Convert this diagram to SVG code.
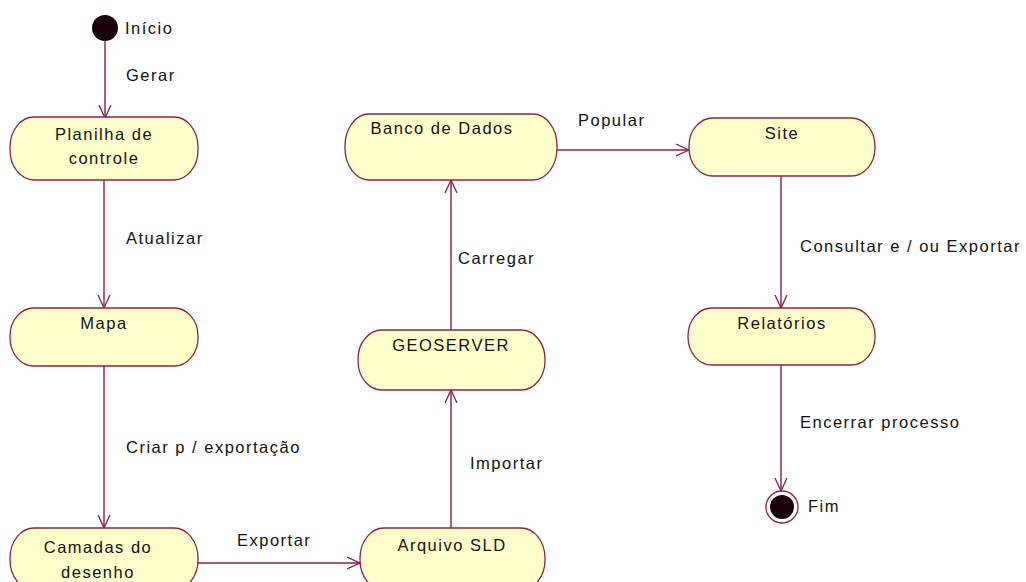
<svg xmlns="http://www.w3.org/2000/svg" width="1026" height="582" viewBox="0 0 1026 582">
<style>
.node{fill:#ffffcc;stroke:#8a2448;stroke-width:1.3}
.t{font-family:"Liberation Sans",Arial,sans-serif;font-size:16.5px;fill:#111;letter-spacing:1.5px}
.c{text-anchor:middle}
.e{stroke:#8a1c4c;stroke-width:1.4;fill:none;marker-end:url(#arr)}
</style>
<defs>
<marker id="arr" markerUnits="userSpaceOnUse" markerWidth="16" markerHeight="16" refX="13" refY="6" orient="auto" viewBox="0 0 16 12">
<path d="M0,0 L13,6 L0,12" fill="none" stroke="#8a1c4c" stroke-width="1.3"/>
</marker>
</defs>
<rect width="1026" height="582" fill="#ffffff"/>
<g id="connectors">
<line class="e" x1="105" y1="41" x2="105" y2="118"/>
<line class="e" x1="104" y1="180" x2="104" y2="308"/>
<line class="e" x1="104" y1="366" x2="104" y2="528"/>
<line class="e" x1="198" y1="563" x2="360" y2="563"/>
<line class="e" x1="451" y1="528" x2="451" y2="390"/>
<line class="e" x1="451" y1="330" x2="451" y2="180"/>
<line class="e" x1="557" y1="150" x2="689" y2="150"/>
<line class="e" x1="781" y1="176" x2="781" y2="308"/>
<line class="e" x1="781" y1="365" x2="781" y2="491"/>
<text class="t" x="126" y="81">Gerar</text>
<text class="t" x="126" y="244">Atualizar</text>
<text class="t" x="126" y="453">Criar p / exportação</text>
<text class="t" x="237" y="546">Exportar</text>
<text class="t" x="470" y="469">Importar</text>
<text class="t" x="458" y="264">Carregar</text>
<text class="t" x="578" y="126">Popular</text>
<text class="t" x="800" y="252">Consultar e / ou Exportar</text>
<text class="t" x="800" y="428">Encerrar processo</text>
</g>
<g id="start">
<circle cx="105" cy="28" r="13" fill="#1a0008"/>
<text class="t" x="125" y="34">Início</text>
</g>
<g id="planilha">
<rect class="node" x="10" y="117" width="188" height="63" rx="24" ry="30"/>
<text class="t c" x="104" y="140">Planilha de</text>
<text class="t c" x="104" y="164">controle</text>
</g>
<g id="mapa">
<rect class="node" x="10" y="308" width="188" height="58" rx="24" ry="28"/>
<text class="t c" x="104" y="329">Mapa</text>
</g>
<g id="camadas">
<rect class="node" x="10" y="528" width="188" height="62" rx="24" ry="30"/>
<text class="t c" x="98" y="553">Camadas do</text>
<text class="t c" x="98" y="578">desenho</text>
</g>
<g id="arquivo">
<rect class="node" x="360" y="528" width="185" height="62" rx="24" ry="30"/>
<text class="t c" x="452" y="551">Arquivo SLD</text>
</g>
<g id="geoserver">
<rect class="node" x="358" y="330" width="187" height="60" rx="24" ry="29"/>
<text class="t c" x="451" y="351">GEOSERVER</text>
</g>
<g id="banco">
<rect class="node" x="345" y="114" width="212" height="66" rx="24" ry="32"/>
<text class="t c" x="442" y="134">Banco de Dados</text>
</g>
<g id="site">
<rect class="node" x="689" y="118" width="186" height="58" rx="24" ry="28"/>
<text class="t c" x="782" y="139">Site</text>
</g>
<g id="relatorios">
<rect class="node" x="688" y="308" width="187" height="57" rx="24" ry="28"/>
<text class="t c" x="782" y="329">Relatórios</text>
</g>
<g id="fim">
<circle cx="782" cy="507" r="16" fill="#ffffff" stroke="#8a2448" stroke-width="1.3"/>
<circle cx="782" cy="507" r="12" fill="#1a0008"/>
<text class="t" x="808" y="512">Fim</text>
</g>
</svg>
